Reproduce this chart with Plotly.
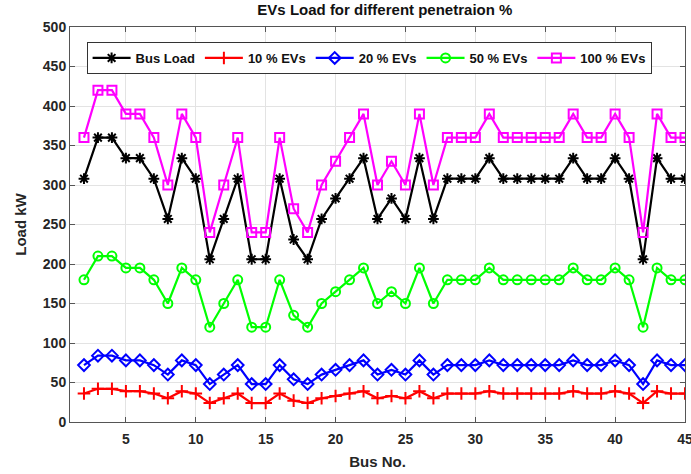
import plotly.graph_objects as go

bus = list(range(2, 46))

bus_load = [308, 360, 360, 334, 334, 308, 257, 334, 308, 206, 257, 308, 206, 206, 308, 231,
            206, 257, 283, 308, 334, 257, 283, 257, 334, 257, 308, 308, 308, 334, 308, 308,
            308, 308, 308, 334, 308, 308, 334, 308, 206, 334, 308, 308]
ev10 = [36, 42, 42, 39, 39, 36, 30, 39, 36, 24, 30, 36, 24, 24, 36, 27,
        24, 30, 33, 36, 39, 30, 33, 30, 39, 30, 36, 36, 36, 39, 36, 36,
        36, 36, 36, 39, 36, 36, 39, 36, 24, 39, 36, 36]
ev20 = [72, 84, 84, 78, 78, 72, 60, 78, 72, 48, 60, 72, 48, 48, 72, 54,
        48, 60, 66, 72, 78, 60, 66, 60, 78, 60, 72, 72, 72, 78, 72, 72,
        72, 72, 72, 78, 72, 72, 78, 72, 48, 78, 72, 72]
ev50 = [180, 210, 210, 195, 195, 180, 150, 195, 180, 120, 150, 180, 120, 120, 180, 135,
        120, 150, 165, 180, 195, 150, 165, 150, 195, 150, 180, 180, 180, 195, 180, 180,
        180, 180, 180, 195, 180, 180, 195, 180, 120, 195, 180, 180]
ev100 = [360, 420, 420, 390, 390, 360, 300, 390, 360, 240, 300, 360, 240, 240, 360, 270,
         240, 300, 330, 360, 390, 300, 330, 300, 390, 300, 360, 360, 360, 390, 360, 360,
         360, 360, 360, 390, 360, 360, 390, 360, 240, 390, 360, 360]

series = [
    ("Bus Load", bus_load, "#000000", "asterisk-open"),
    ("10 % EVs", ev10, "#FF0000", "cross-thin-open"),
    ("20 % EVs", ev20, "#0000FF", "diamond-open"),
    ("50 % EVs", ev50, "#00FF00", "circle-open"),
    ("100 % EVs", ev100, "#FF00FF", "square-open"),
]

x_ticks = [5, 10, 15, 20, 25, 30, 35, 40, 45]
y_ticks = [0, 50, 100, 150, 200, 250, 300, 350, 400, 450, 500]

fig = go.Figure()
for name, vals, col, sym in series:
    fig.add_trace(go.Scatter(
        x=bus, y=vals, name=name, mode="lines+markers",
        line=dict(color=col, width=2.2),
        marker=dict(symbol=sym, size=9, color=col, line=dict(color=col, width=2)),
    ))

font_family = "Liberation Sans, Arial, sans-serif"
fig.update_layout(
    width=691, height=474,
    margin=dict(l=70, r=6, t=27, b=52, autoexpand=False),
    paper_bgcolor="white", plot_bgcolor="white",
    title=dict(text="<b>EVs Load for different penetraion %</b>", x=0.557, xanchor="center",
               y=0.99, yanchor="top", font=dict(family=font_family, size=15, color="#111")),
    font=dict(family=font_family, color="#262626"),
    showlegend=True,
    legend=dict(orientation="h", x=0.027, y=0.962, xanchor="left", yanchor="top",
                bgcolor="white", bordercolor="#333", borderwidth=1,
                font=dict(family=font_family, size=13, color="#111", weight="bold"),
                itemwidth=38, tracegroupgap=0),
    xaxis=dict(range=[1, 45], tickvals=x_ticks, ticktext=[f"<b>{v}</b>" for v in x_ticks],
               ticks="inside", ticklen=5, tickcolor="#555", showline=True, linecolor="#555",
               linewidth=1, mirror="ticks", showgrid=True, gridcolor="#e3e3e3", gridwidth=1,
               zeroline=False, tickfont=dict(size=14, color="#262626"), automargin=False,
               ticklabeloverflow="allow", ticklabelstandoff=4,
               title=dict(text="<b>Bus No.</b>", font=dict(size=15, color="#262626"), standoff=10)),
    yaxis=dict(range=[0, 500], tickvals=y_ticks, ticktext=[f"<b>{v}</b>" for v in y_ticks],
               ticks="inside", ticklen=5, tickcolor="#555", showline=True, linecolor="#555",
               linewidth=1, mirror="ticks", showgrid=True, gridcolor="#e3e3e3", gridwidth=1,
               zeroline=False, tickfont=dict(size=14, color="#262626"), automargin=False,
               ticklabeloverflow="allow",
               title=dict(text="<b>Load kW</b>", font=dict(size=15, color="#262626"), standoff=12)),
)

fig.write_html("out.html", config={"displayModeBar": False},
               post_script="document.body.style.margin='0px';document.body.style.overflow='hidden';")
